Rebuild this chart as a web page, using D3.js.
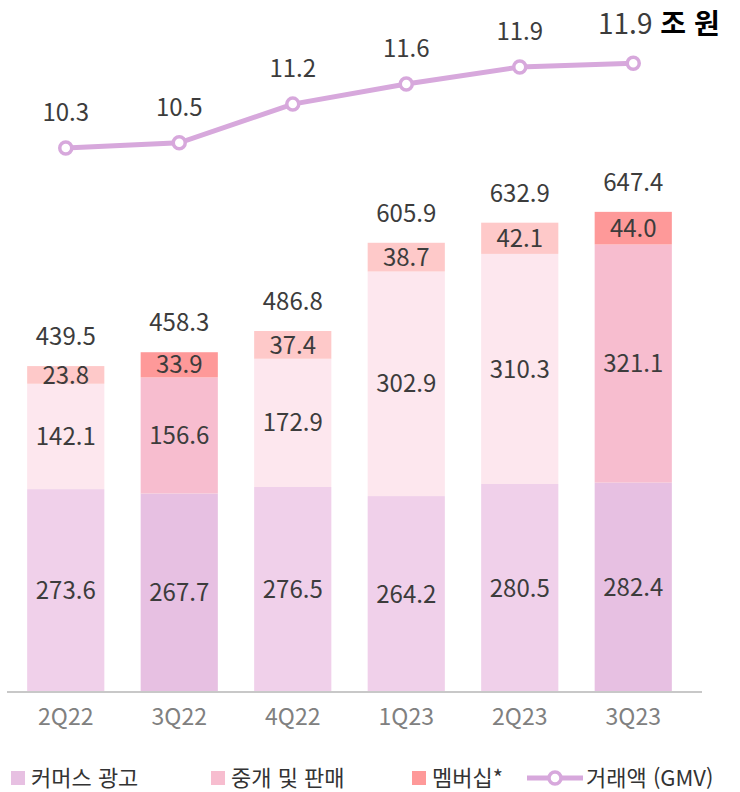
<!DOCTYPE html>
<html lang="ko">
<head>
<meta charset="UTF-8">
<title>Revenue and GMV</title>
<script src="https://d3js.org/d3.v7.min.js"></script>
<style>
    body { margin: 0; background: #fff; }
    text { font-family: "Noto Sans CJK KR", "Noto Sans", sans-serif; }
</style>
</head>
<body>
<script>
    // data
    const categories = ["2Q22", "3Q22", "4Q22", "1Q23", "2Q23", "3Q23"];
    const commerceAds = [273.6, 267.7, 276.5, 264.2, 280.5, 282.4];
    const brokerage = [142.1, 156.6, 172.9, 302.9, 310.3, 321.1];
    const membership = [23.8, 33.9, 37.4, 38.7, 42.1, 44.0];
    const totals = [439.5, 458.3, 486.8, 605.9, 632.9, 647.4];
    const gmv = [10.3, 10.4, 11.13, 11.51, 11.83, 11.9];
    const gmvLabels = ["10.3", "10.5", "11.2", "11.6", "11.9", "11.9"];
    const seriesNames = ["커머스 광고", "중개 및 판매", "멤버십*"];
    const highlighted = ["3Q22", "3Q23"];

    // colours: [normal, highlighted]
    const colors = [
        ["#f0d0ea", "#e7c0e2"],
        ["#fde7ee", "#f7bdcf"],
        ["#fec9c9", "#fe9999"]
    ];
    const lineColor = "#d7a8dc";

    const W = 740, H = 792;
    const svg = d3.select("body").append("svg")
        .attr("width", W).attr("height", H);

    const x = d3.scaleBand()
        .domain(categories)
        .range([9, 690])
        .paddingInner(0.32)
        .paddingOuter(0.16);

    const y = d3.scaleLinear().domain([0, 650]).range([692, 210]);
    const yG = d3.scaleLinear().domain([10, 12]).range([164, 58]);

    // stack
    const rows = categories.map((c, i) => ({
        cat: c, s0: commerceAds[i], s1: brokerage[i], s2: membership[i]
    }));
    const stack = d3.stack().keys(["s0", "s1", "s2"])(rows);

    stack.forEach((layer, li) => {
        const g = svg.append("g");
        g.selectAll("rect")
            .data(layer)
            .enter().append("rect")
            .attr("x", d => x(d.data.cat))
            .attr("width", x.bandwidth())
            .attr("y", d => y(d[1]))
            .attr("height", d => y(d[0]) - y(d[1]))
            .attr("fill", d => colors[li][highlighted.includes(d.data.cat) ? 1 : 0]);

        g.selectAll("text")
            .data(layer)
            .enter().append("text")
            .attr("x", d => x(d.data.cat) + x.bandwidth() / 2)
            .attr("y", d => (y(d[0]) + y(d[1])) / 2)
            .attr("dy", "0.36em")
            .attr("text-anchor", "middle")
            .attr("font-size", 24)
            .attr("fill", "#3c3c3c")
            .text(d => (d[1] - d[0]).toFixed(1));
    });

    // totals
    svg.append("g").selectAll("text")
        .data(categories)
        .enter().append("text")
        .attr("x", d => x(d) + x.bandwidth() / 2)
        .attr("y", (d, i) => y(d3.sum([commerceAds[i], brokerage[i], membership[i]])) - 21)
        .attr("text-anchor", "middle")
        .attr("font-size", 24)
        .attr("fill", "#3c3c3c")
        .text((d, i) => totals[i].toFixed(1));

    // x axis
    const xAxis = svg.append("g")
        .attr("transform", "translate(0,692)")
        .call(d3.axisBottom(x).tickSize(0).tickPadding(17));
    xAxis.select(".domain").attr("d", "M7,0H702").attr("stroke", "#c8c8c8").attr("stroke-width", 2);
    xAxis.selectAll("text")
        .attr("font-size", 23)
        .attr("fill", "#808080")
        .style("font-family", "'Noto Sans CJK KR', 'Noto Sans', sans-serif");

    // GMV line
    const cx = d => x(d) + x.bandwidth() / 2;
    svg.append("path")
        .datum(categories)
        .attr("fill", "none")
        .attr("stroke", lineColor)
        .attr("stroke-width", 5)
        .attr("d", d3.line().x(d => cx(d)).y((d, i) => yG(gmv[i])));

    svg.append("g").selectAll("circle")
        .data(categories)
        .enter().append("circle")
        .attr("cx", d => cx(d))
        .attr("cy", (d, i) => yG(gmv[i]))
        .attr("r", 6)
        .attr("fill", "#fff")
        .attr("stroke", lineColor)
        .attr("stroke-width", 3.5);

    const last = categories.length - 1;
    svg.append("g").selectAll("text")
        .data(categories.slice(0, last))
        .enter().append("text")
        .attr("x", d => cx(d))
        .attr("y", (d, i) => yG(gmv[i]) - 27)
        .attr("text-anchor", "middle")
        .attr("font-size", 24)
        .attr("fill", "#3c3c3c")
        .text((d, i) => gmvLabels[i]);

    const lastLabel = svg.append("text")
        .attr("x", 598)
        .attr("y", yG(gmv[last]) - 29)
        .attr("font-size", 28)
        .attr("fill", "#3c3c3c");
    lastLabel.append("tspan").text(gmvLabels[last] + " ");
    lastLabel.append("tspan").attr("font-weight", "bold").attr("fill", "#000").text("조 원");

    // legend
    const leg = svg.append("g").attr("transform", "translate(0,778)");
    const legX = [11, 211, 412];
    seriesNames.forEach((name, i) => {
        leg.append("rect")
            .attr("x", legX[i]).attr("y", -7)
            .attr("width", 14).attr("height", 14)
            .attr("fill", colors[i][1]);
        leg.append("text")
            .attr("x", legX[i] + 20).attr("dy", "0.36em")
            .attr("font-size", 22).attr("fill", "#333")
            .text(name);
    });
    leg.append("line")
        .attr("x1", 527).attr("x2", 583)
        .attr("stroke", lineColor).attr("stroke-width", 5);
    leg.append("circle")
        .attr("cx", 555).attr("r", 6)
        .attr("fill", "#fff").attr("stroke", lineColor).attr("stroke-width", 3.5);
    leg.append("text")
        .attr("x", 586).attr("dy", "0.36em")
        .attr("font-size", 22).attr("fill", "#333")
        .text("거래액 (GMV)");
</script>
</body>
</html>
